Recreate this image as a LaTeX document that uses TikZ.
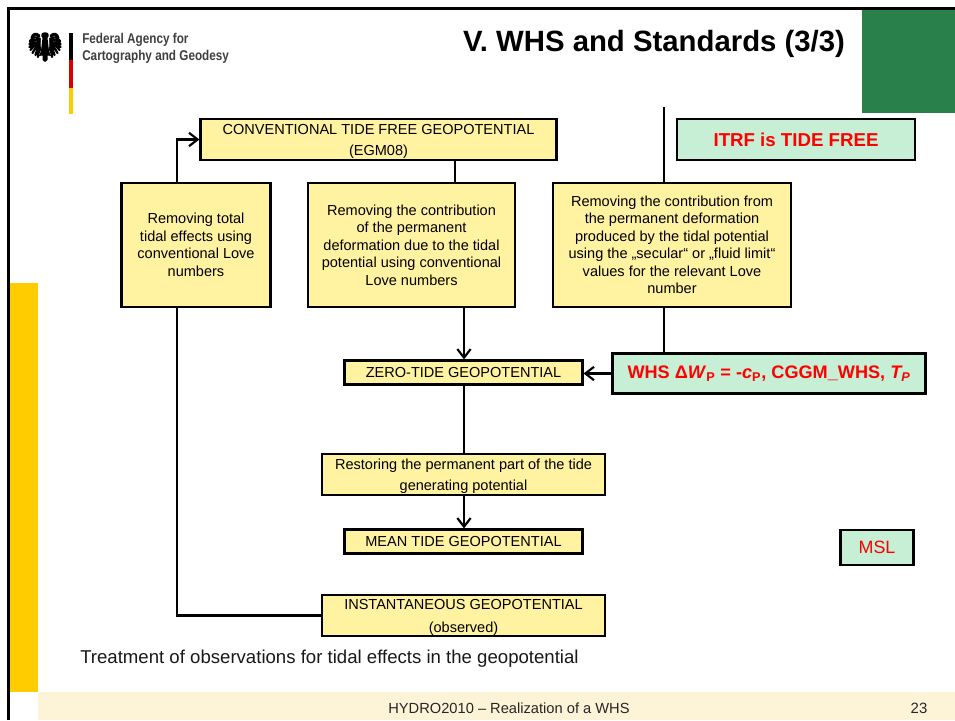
\documentclass[tikz,border=0pt]{standalone}
\usepackage{fontspec}
\setmainfont{Liberation Sans}
\usetikzlibrary{arrows.meta,calc}
\definecolor{boxy}{HTML}{FFF2A1}
\definecolor{boxg}{HTML}{C6EFD5}
\definecolor{dgreen}{HTML}{2A804B}
\definecolor{gold}{HTML}{FFCC00}
\definecolor{foot}{HTML}{FDF3D7}
\definecolor{logotxt}{HTML}{3F3F3F}
\newcommand\toppad{\rule{0pt}{10.5pt}}
\tikzset{
  wh/.style 2 args={minimum width=#1*0.75pt,minimum height=#2*0.75pt},
  ybox/.style={draw=black,line width=1.6pt,fill=boxy,align=center,inner sep=0pt,font=\fontsize{10.9}{13.1}\selectfont},
  gbox/.style={draw=black,line width=1.6pt,fill=boxg,align=center,inner sep=0pt,text=red},
  conn/.style={draw=black,line width=1.6pt},
  arr/.style={conn,-{Straight Barb[length=6.5pt,width=10pt,line width=1.6pt]}},
}
\begin{document}
\begin{tikzpicture}[x=0.75pt,y=-0.75pt]
\useasboundingbox (0,0) rectangle (955,720);
\fill[white] (0,0) rectangle (955,720);
% page furniture
\fill[gold] (10,283) rectangle (38,692);
\fill[foot] (38,692) rectangle (955,720);
\fill[dgreen] (862,9) rectangle (955,113);
\draw[black,line width=2.2pt] (8.5,720) -- (8.5,8.5) -- (955,8.5);
% logo
\fill[black] (69,33) rectangle (73,60);
\fill[red!85!black] (69,60) rectangle (73,88);
\fill[gold] (69,88) rectangle (73,114);
\node[anchor=west,text=logotxt,align=left,inner sep=0pt,font=\fontsize{10.6}{12.2}\selectfont\bfseries] (agencytxt) at (82,48.5) {\scalebox{.83}[1]{Federal Agency for}\\\scalebox{.83}[1]{Cartography and Geodesy}};
% eagle
\begin{scope}[shift={(45,47)}]
\fill[black] (-1,-14.5) .. controls (-4,-14.5) and (-4.5,-11) .. (-2.5,-9) -- (-4,4) -- (-6,9) -- (-2.5,8.5) -- (-2.5,13) -- (0,15) -- (2.5,13) -- (2.5,8.5) -- (6,9) -- (4,4) -- (2.5,-9) .. controls (4.5,-11) and (4,-14.5) .. (1,-14.5) -- cycle;
\foreach \s in {-1,1}{
 \begin{scope}[xscale=\s]
 \draw[black,line width=2.3pt,line cap=round] (6,-11) .. controls (9,-14) and (12,-13) .. (13,-9);
 \draw[black,line width=1.7pt,line cap=round]
   (5,-8) .. controls (9,-11) and (12,-10) .. (15,-6)
   (5,-6) .. controls (9,-8) and (12,-7) .. (15.5,-3)
   (5,-4) .. controls (9,-5) and (12,-4) .. (15.5,0)
   (5,-2) .. controls (9,-3) and (12,-1) .. (14.5,3)
   (5,0) .. controls (8,-1) and (10,1) .. (12.5,6)
   (5,1) .. controls (7,1) and (8,3) .. (9.5,8)
   (4.5,2) .. controls (6,3) and (6.5,5) .. (7,10);
 \end{scope}
}
\end{scope}
% title
\node[font=\fontsize{22}{26}\selectfont\bfseries,inner sep=0pt] (title) at (654,44) {V. WHS and Standards (3/3)};
% boxes
\node[ybox,wh={356}{41}] (conv) at (378.5,139.5) {\toppad CONVENTIONAL TIDE FREE GEOPOTENTIAL\\[2.5pt](EGM08)};
\node[gbox,wh={238}{41},font=\fontsize{14}{17}\selectfont\bfseries] (itrf) at (796,139.5) {ITRF is TIDE FREE};
\node[ybox,wh={149}{124}] (left) at (196,245) {Removing total\\tidal effects using\\conventional Love\\numbers};
\node[ybox,wh={207}{124}] (mid) at (411.5,245) {Removing the contribution\\of the permanent\\deformation due to the tidal\\potential using conventional\\Love numbers};
\node[ybox,wh={238}{124}] (right) at (672,245) {Removing the contribution from\\the permanent deformation\\produced by the tidal potential\\using the „secular“ or „fluid limit“\\values for the relevant Love\\number};
\node[ybox,wh={238}{24}] (zero) at (463.5,372.5) {ZERO-TIDE GEOPOTENTIAL};
\node[gbox,wh={313}{40},font=\fontsize{13.6}{16}\selectfont\bfseries] (whs) at (769,373.5) {WHS Δ\textit{W}\textsubscript{P} = -\textit{c}\textsubscript{P}, CGGM\_WHS, \textit{T\textsubscript{P}}};
\node[ybox,wh={283}{41}] (rest) at (463.5,474.5) {\toppad Restoring the permanent part of the tide\\[2.5pt]generating potential};
\node[ybox,wh={238}{24}] (mean) at (463.5,541.5) {MEAN TIDE GEOPOTENTIAL};
\node[gbox,wh={73}{35},font=\fontsize{13.4}{16}\selectfont] (msl) at (877,547.5) {MSL};
\node[ybox,wh={283}{41}] (inst) at (463.5,615.5) {\toppad INSTANTANEOUS GEOPOTENTIAL\\[4.5pt](observed)};
% free end
\coordinate (rfree) at (664,107);
% connectors
\draw[conn] (inst.west) -- (inst.west -| 177,0) -- (left.south -| 177,0);
\draw[arr] (left.north -| 177,0) |- (conv.west);
\draw[conn] (conv.south -| 455,0) -- (mid.north -| 455,0);
\draw[arr] (mid.south -| 464,0) -- (zero.north -| 464,0);
\draw[conn] (zero.south -| 464,0) -- (rest.north -| 464,0);
\draw[arr] (rest.south -| 464,0) -- (mean.north -| 464,0);
\draw[conn] (rfree) -- (right.north -| 664,0);
\draw[conn] (right.south -| 664,0) -- (whs.north -| 664,0);
\draw[arr] (whs.west) -- (whs.west -| zero.east);
% texts
\node[anchor=west,inner sep=0pt,text=black!90,font=\fontsize{13.95}{16}\selectfont] (cap) at (80,658.5) {Treatment of observations for tidal effects in the geopotential};
\node[inner sep=0pt,text=black!85,font=\fontsize{11}{13}\selectfont] (ftr) at (509,708.5) {HYDRO2010 – Realization of a WHS};
\node[inner sep=0pt,text=black!85,font=\fontsize{11.2}{13}\selectfont] (num) at (919,708.5) {23};
\end{tikzpicture}
\end{document}
